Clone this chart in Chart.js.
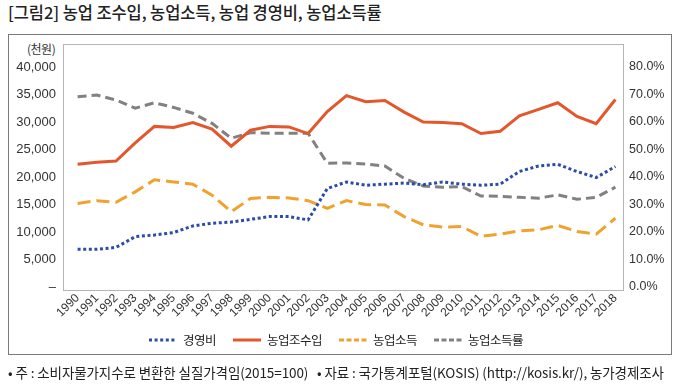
<!DOCTYPE html>
<html><head><meta charset="utf-8">
<script src="https://cdn.jsdelivr.net/npm/chart.js@4/dist/chart.umd.min.js"></script>
<style>
html,body{margin:0;padding:0;background:#fff;width:680px;height:385px;overflow:hidden;font-family:"Noto Sans CJK KR","Noto Sans",sans-serif;color:#222}
#title{position:absolute;left:8px;top:2px;font-size:16.5px;line-height:20px;font-weight:500;letter-spacing:-0.1px;white-space:nowrap}
#box{position:absolute;left:8px;top:34px;width:664px;height:321px;border:1px solid #7a7a7a;box-sizing:border-box}
#unit{position:absolute;left:27px;top:41px;font-size:12px;line-height:16px;color:#333;letter-spacing:-0.5px}
#c{position:absolute;left:0;top:0}
#legend{position:absolute;left:149px;top:331px;display:flex;align-items:center;font-size:12.5px;line-height:18px;color:#222;letter-spacing:-0.5px;white-space:nowrap}
#legend .it{display:flex;align-items:center;margin-right:17px}
#legend svg{margin-right:6px}
#foot{position:absolute;left:8px;top:362px;font-size:13.5px;line-height:20px;color:#222;letter-spacing:-0.1px;white-space:nowrap}
</style></head>
<body>
<div id="title">[그림2] 농업 조수입, 농업소득, 농업 경영비, 농업소득률</div>
<div id="box"></div>
<div id="unit">(천원)</div>
<canvas id="c" width="680" height="385"></canvas>
<div id="legend"></div>
<div id="foot">• 주 : 소비자물가지수로 변환한 실질가격임(2015=100) &nbsp; • 자료 : 국가통계포털(KOSIS) (http://kosis.kr/), 농가경제조사</div>
<script>
const years = ['1990','1991','1992','1993','1994','1995','1996','1997','1998','1999','2000','2001','2002','2003','2004','2005','2006','2007','2008','2009','2010','2011','2012','2013','2014','2015','2016','2017','2018'];
const grossIncome = [22300,22700,22900,26200,29200,29000,29900,28700,25600,28500,29200,29100,27900,31900,34800,33700,33900,31800,30000,29900,29700,27900,28300,31100,32300,33500,31000,29700,34100];
const farmIncome = [15200,15700,15400,17300,19500,19100,18700,16700,13700,16100,16300,16200,15700,14300,15700,15000,14900,12800,11300,10900,11000,9200,9600,10200,10400,11200,10100,9600,12500];
const operatingCost = [6850,6850,7200,9150,9450,9900,11100,11600,11800,12300,12800,12800,12200,17900,19100,18500,18700,18900,18600,19100,18700,18500,18700,21000,22000,22300,21000,19900,21900];
const incomeRatio = [69.2,69.8,68.0,65.0,67.0,65.3,63.2,59.5,54.1,56.1,55.9,55.9,55.9,45.0,45.1,44.7,44.0,39.5,36.7,36.3,36.5,33.1,33.0,32.6,32.3,33.5,31.9,32.6,36.3];
const leftTicks = {min:0, max:40000, step:5000};
const rightTicks = {min:0, max:80, step:10};

const frame = {
  id:'frame',
  beforeDraw(chart){
    const a = chart.chartArea, ctx = chart.ctx;
    ctx.save();
    ctx.strokeStyle = '#b5b5b5';
    ctx.lineWidth = 1;
    ctx.strokeRect(Math.round(a.left-5)+0.5, Math.round(a.top-23)+0.5, Math.round(a.right-a.left+3), Math.round(a.bottom-a.top+26));
    ctx.restore();
  }
};

const tickFont = {family:'Arial, "Liberation Sans", sans-serif', size:13};
const chart = new Chart(document.getElementById('c'), {
  type:'line',
  data:{
    labels: years,
    datasets:[
      {label:'경영비', data:operatingCost, borderColor:'#2C4CA6', borderWidth:3, borderDash:[3,2.6], yAxisID:'y'},
      {label:'농업조수입', data:grossIncome, borderColor:'#E2572C', borderWidth:3, borderDash:[], yAxisID:'y'},
      {label:'농업소득', data:farmIncome, borderColor:'#F0A22E', borderWidth:3, borderDash:[13,6], yAxisID:'y'},
      {label:'농업소득률', data:incomeRatio, borderColor:'#818181', borderWidth:3, borderDash:[9,5], yAxisID:'y2'}
    ]
  },
  options:{
    responsive:false, animation:false,
    layout:{padding:{top:67,left:0,right:0,bottom:63}},
    elements:{point:{radius:0}, line:{tension:0, borderCapStyle:'butt'}},
    plugins:{legend:{display:false}, tooltip:{enabled:false}},
    scales:{
      x:{
        offset:true,
        grid:{display:false, drawTicks:false}, border:{display:false},
        ticks:{color:'#333', font:{family:'Arial, "Liberation Sans", sans-serif', size:12}, maxRotation:45, minRotation:45, autoSkip:false, padding:4},
        afterFit(s){ s.height = 35; }
      },
      y:{
        position:'left', min:leftTicks.min, max:leftTicks.max,
        grid:{display:false, drawTicks:false}, border:{display:false},
        ticks:{stepSize:leftTicks.step, color:'#333', font:tickFont, padding:12,
          callback:v => v===0 ? '–' : v.toLocaleString('en-US')},
        afterFit(s){ s.width = 68; }
      },
      y2:{
        position:'right', min:rightTicks.min, max:rightTicks.max,
        grid:{display:false, drawTicks:false}, border:{display:false},
        ticks:{stepSize:rightTicks.step, color:'#333', font:{family:'Arial, "Liberation Sans", sans-serif', size:12.5}, padding:4,
          callback:v => v.toFixed(1)+'%'},
        afterFit(s){ s.width = 55; }
      }
    }
  },
  plugins:[frame]
});

const lg = document.getElementById('legend');
chart.data.datasets.forEach(ds => {
  const it = document.createElement('div'); it.className='it';
  const dash = ds.borderDash && ds.borderDash.length ? (ds.borderDash[0]>8 ? '5,2.5' : '3,2.6') : 'none';
  it.innerHTML = '<svg width="28" height="4"><line x1="0" y1="2" x2="28" y2="2" stroke="'+ds.borderColor+'" stroke-width="3" stroke-dasharray="'+dash+'"/></svg><span>'+ds.label+'</span>';
  lg.appendChild(it);
});
</script>
</body></html>
